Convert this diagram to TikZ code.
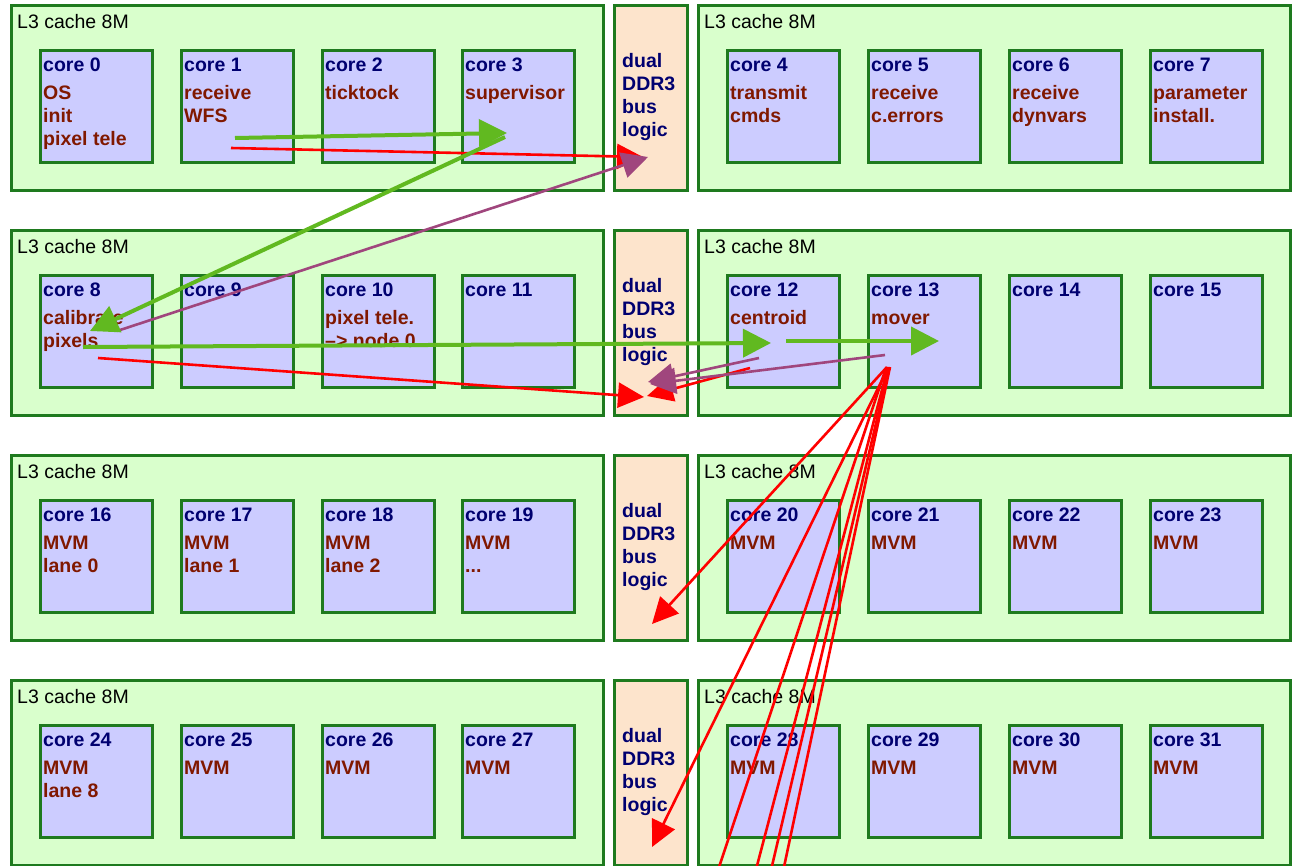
\documentclass[tikz,border=0pt]{standalone}
\usepackage{fontspec}
\setmainfont{Liberation Sans}
\usetikzlibrary{arrows.meta,calc}
\definecolor{l3fill}{RGB}{217,255,204}
\definecolor{corefill}{RGB}{204,204,255}
\definecolor{ddrfill}{RGB}{253,228,204}
\definecolor{boxline}{RGB}{30,122,30}
\definecolor{navy}{RGB}{0,0,112}
\definecolor{taskred}{RGB}{128,24,0}
\definecolor{arrgreen}{RGB}{97,185,32}
\definecolor{arrpurple}{RGB}{160,70,125}
\definecolor{arrred}{RGB}{255,0,0}
\tikzset{
  l3box/.style={draw=boxline, fill=l3fill, line width=3pt, minimum width=592pt, minimum height=185pt, anchor=north west, inner sep=0pt, outer sep=0pt},
  ddrbox/.style={draw=boxline, fill=ddrfill, line width=3pt, minimum width=73pt, minimum height=185pt, anchor=north west, inner sep=0pt, outer sep=0pt},
  corebox/.style={draw=boxline, fill=corefill, line width=3pt, minimum width=112pt, minimum height=112pt, anchor=north west, inner sep=0pt, outer sep=0pt},
  l3label/.style={anchor=base west, inner sep=0pt, font=\fontsize{19.5}{23}\selectfont, text=black},
  corelabel/.style={anchor=base west, inner sep=0pt, font=\bfseries\fontsize{19.5}{23}\selectfont, text=navy},
  tasktext/.style={anchor=base west, inner sep=0pt, font=\bfseries\fontsize{19.5}{23}\selectfont, text=taskred},
  ddrtext/.style={anchor=base west, inner sep=0pt, font=\bfseries\fontsize{19.5}{23}\selectfont, text=navy},
  garrow/.style={draw=arrgreen, line width=4pt, -{Triangle[length=28pt,width=28pt]}},
  parrow/.style={draw=arrpurple, line width=2.6pt, -{Triangle[length=26pt,width=26pt]}},
  rarrow/.style={draw=arrred, line width=2.6pt, -{Triangle[length=26pt,width=25pt]}},
  rline/.style={draw=arrred, line width=2.6pt}
}
\newcommand\mkrow[2]{%
  \node[l3box] (L#1a) at (11,#2) {};
  \node[l3label] (L#1al) at ($(L#1a.north west)+(6,23)$) {L3 cache 8M};
  \node[ddrbox] (d#1) at (614,#2) {};
  \node[ddrtext] (d#1t) at ($(d#1.north west)+(8,62)$) {\parbox[t]{70pt}{\raggedright dual\\DDR3\\bus\\logic}};
  \node[l3box] (L#1b) at (698,#2) {};
  \node[l3label] (L#1bl) at ($(L#1b.north west)+(6,23)$) {L3 cache 8M};
}
\newcommand\mkcore[5]{%
  \node[corebox] (#1) at (#2,#3) {};
  \node[corelabel] (#1l) at ($(#1.north west)+(3,21)$) {core #4};
  \node[tasktext] (#1t) at ($(#1.north west)+(3,49)$) {\parbox[t]{108pt}{\raggedright #5}};
}
\begin{document}
\begin{tikzpicture}[x=1pt,y=-1pt]
\useasboundingbox (0,0) rectangle (1292,865);
\clip (0,0) rectangle (1292,865);
\fill[white] (0,0) rectangle (1292,865);
\mkrow{1}{5}
\mkrow{2}{230}
\mkrow{3}{455}
\mkrow{4}{680}
% row 1
\mkcore{c0}{40}{50}{0}{OS\\init\\pixel tele}
\mkcore{c1}{181}{50}{1}{receive\\WFS}
\mkcore{c2}{322}{50}{2}{ticktock}
\mkcore{c3}{462}{50}{3}{supervisor}
\mkcore{c4}{727}{50}{4}{transmit\\cmds}
\mkcore{c5}{868}{50}{5}{receive\\c.errors}
\mkcore{c6}{1009}{50}{6}{receive\\dynvars}
\mkcore{c7}{1150}{50}{7}{parameter\\install.}
% row 2
\mkcore{c8}{40}{275}{8}{calibrate\\pixels}
\mkcore{c9}{181}{275}{9}{}
\mkcore{c10}{322}{275}{10}{pixel tele.\\--> node 0}
\mkcore{c11}{462}{275}{11}{}
\mkcore{c12}{727}{275}{12}{centroid}
\mkcore{c13}{868}{275}{13}{mover}
\mkcore{c14}{1009}{275}{14}{}
\mkcore{c15}{1150}{275}{15}{}
% row 3
\mkcore{c16}{40}{500}{16}{MVM\\lane 0}
\mkcore{c17}{181}{500}{17}{MVM\\lane 1}
\mkcore{c18}{322}{500}{18}{MVM\\lane 2}
\mkcore{c19}{462}{500}{19}{MVM\\...}
\mkcore{c20}{727}{500}{20}{MVM}
\mkcore{c21}{868}{500}{21}{MVM}
\mkcore{c22}{1009}{500}{22}{MVM}
\mkcore{c23}{1150}{500}{23}{MVM}
% row 4
\mkcore{c24}{40}{725}{24}{MVM\\lane 8}
\mkcore{c25}{181}{725}{25}{MVM}
\mkcore{c26}{322}{725}{26}{MVM}
\mkcore{c27}{462}{725}{27}{MVM}
\mkcore{c28}{727}{725}{28}{MVM}
\mkcore{c29}{868}{725}{29}{MVM}
\mkcore{c30}{1009}{725}{30}{MVM}
\mkcore{c31}{1150}{725}{31}{MVM}
% connector end points
\coordinate (g1s) at ($(c1.north west)+(54,88)$);
\coordinate (g1e) at ($(c3.north west)+(45,83)$);
\coordinate (g2s) at ($(c3.north west)+(43,87)$);
\coordinate (g2e) at ($(c8.north west)+(50,56)$);
\coordinate (g3s) at ($(c8.north west)+(43,72)$);
\coordinate (g3e) at ($(c12.north west)+(44,68)$);
\coordinate (g4s) at ($(c13.north west)+(-82,66)$);
\coordinate (g4e) at ($(c13.north west)+(71,66)$);
\coordinate (p1s) at ($(c8.north west)+(77,56)$);
\coordinate (p1e) at ($(d1.north west)+(34,152)$);
\coordinate (p2s) at ($(c12.north west)+(32,83)$);
\coordinate (p2e) at ($(d2.north west)+(34,152)$);
\coordinate (p3s) at ($(c13.north west)+(17,80)$);
\coordinate (p3e) at ($(d2.north west)+(36,154)$);
\coordinate (r1s) at ($(c1.north west)+(50,98)$);
\coordinate (r1e) at ($(d1.north west)+(29,152)$);
\coordinate (r2s) at ($(c8.north west)+(58,83)$);
\coordinate (r2e) at ($(d2.north west)+(30,167)$);
\coordinate (r3s) at ($(c12.north west)+(23,93)$);
\coordinate (r3e) at ($(d2.north west)+(33,166)$);
\coordinate (r4s) at ($(c13.north west)+(19,92)$);
\coordinate (r4e) at ($(d3.north west)+(38,169)$);
\coordinate (r5s) at ($(c13.north west)+(20,93)$);
\coordinate (r5e) at ($(d4.north west)+(38,167)$);
\coordinate (r6s) at ($(c13.north west)+(18,93)$);
\coordinate (r7s) at ($(c13.north west)+(20,92)$);
\coordinate (r8s) at ($(c13.north west)+(21,93)$);
\coordinate (r9s) at ($(c13.north west)+(22,92)$);
\coordinate (r6e) at (708,900);
\coordinate (r7e) at (748,900);
\coordinate (r8e) at (764,900);
\coordinate (r9e) at (777,900);
% red connectors
\draw[rarrow] (r1s) -- (r1e);
\draw[rarrow] (r2s) -- (r2e);
\draw[rarrow] (r3s) -- (r3e);
\draw[rarrow] (r4s) -- (r4e);
\draw[rarrow] (r5s) -- (r5e);
\draw[rline] (r6s) -- (r6e);
\draw[rline] (r7s) -- (r7e);
\draw[rline] (r8s) -- (r8e);
\draw[rline] (r9s) -- (r9e);
% purple connectors
\draw[parrow] (p1s) -- (p1e);
\draw[parrow] (p2s) -- (p2e);
\draw[parrow] (p3s) -- (p3e);
% green connectors
\draw[garrow] (g1s) -- (g1e);
\draw[garrow] (g2s) -- (g2e);
\draw[garrow] (g3s) -- (g3e);
\draw[garrow] (g4s) -- (g4e);
\end{tikzpicture}
\end{document}
